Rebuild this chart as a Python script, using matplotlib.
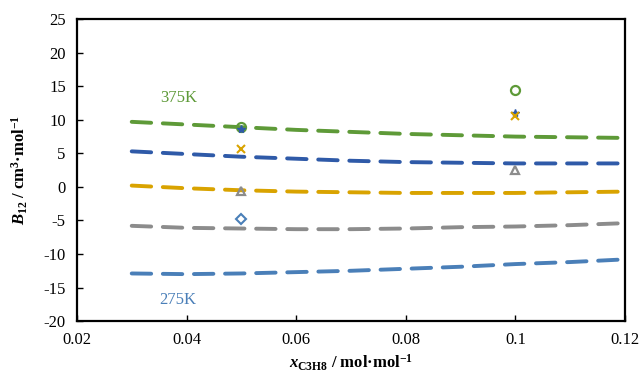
import matplotlib
matplotlib.use("Agg")
import matplotlib.pyplot as plt
import numpy as np

plt.rcParams["font.family"] = ["Liberation Serif", "DejaVu Serif"]
plt.rcParams["mathtext.fontset"] = "custom"
plt.rcParams["mathtext.rm"] = "Liberation Serif:bold"
plt.rcParams["mathtext.it"] = "Liberation Serif:bold:italic"
plt.rcParams["mathtext.bf"] = "Liberation Serif:bold"
plt.rcParams["axes.unicode_minus"] = False

# model curves
x_line = [0.03, 0.04, 0.05, 0.06, 0.07, 0.08, 0.09, 0.10, 0.11, 0.12]
b_375 = [9.7, 9.3, 8.9, 8.5, 8.2, 7.9, 7.7, 7.5, 7.4, 7.3]
b_350 = [5.3, 4.9, 4.5, 4.2, 3.9, 3.7, 3.6, 3.5, 3.5, 3.5]
b_325 = [0.2, -0.2, -0.5, -0.7, -0.8, -0.9, -0.9, -0.9, -0.8, -0.7]
b_300 = [-5.8, -6.1, -6.2, -6.3, -6.3, -6.2, -6.0, -5.9, -5.7, -5.4]
b_275 = [-12.9, -13.0, -12.9, -12.7, -12.5, -12.2, -11.9, -11.5, -11.2, -10.8]

# experimental points
x_pts = [0.05, 0.10]
p_375 = [9.0, 14.5]
p_350 = [8.6, 11.0]
p_325 = [5.6, 10.6]
p_300 = [-0.6, 2.5]
x_pts_275 = [0.05]
p_275 = [-4.8]

green = "#5E9A38"
blue = "#2F5AA8"
gold = "#D9A300"
gray = "#8C8C8C"
lblue = "#4A7FB8"

fig = plt.figure(figsize=(6.41, 3.76), dpi=100)
ax = fig.add_axes([0.120, 0.146, 0.855, 0.803])

dash = dict(lw=2.8, linestyle=(0, (5, 3.0)), dash_capstyle="round")
ax.plot(x_line, b_375, color=green, **dash)
ax.plot(x_line, b_350, color=blue, **dash)
ax.plot(x_line, b_325, color=gold, **dash)
ax.plot(x_line, b_300, color=gray, **dash)
ax.plot(x_line, b_275, color=lblue, **dash)

ax.plot(x_pts, p_375, "o", mfc="none", mec=green, mew=1.6, ms=6.5)
ax.plot(x_pts, p_350, "*", color=blue, ms=6)
ax.plot(x_pts, p_325, "x", color=gold, mew=1.5, ms=6)
ax.plot(x_pts, p_300, "^", mfc="none", mec=gray, mew=1.6, ms=6)
ax.plot(x_pts_275, p_275, "D", mfc="none", mec=lblue, mew=1.5, ms=5)

ax.text(0.0385, 13.3, "375K", color=green, fontsize=12, ha="center", va="center")
ax.text(0.0385, -16.8, "275K", color=lblue, fontsize=12, ha="center", va="center")

ax.set_xlim(0.02, 0.12)
ax.set_ylim(-20, 25)
ax.set_xticks([0.02, 0.04, 0.06, 0.08, 0.1, 0.12])
ax.set_xticklabels(["0.02", "0.04", "0.06", "0.08", "0.1", "0.12"])
ax.set_yticks(np.arange(-20, 26, 5))
ax.tick_params(direction="in", labelsize=12, width=1.0, length=4)
ax.tick_params(axis="x", pad=8)
ax.tick_params(axis="y", pad=8)
for s in ax.spines.values():
    s.set_linewidth(1.6)

ax.set_xlabel(r"$x_{\mathrm{C3H8}}$ / mol·mol$^{\mathbf{-1}}$", fontsize=12,
              fontweight="bold", labelpad=3)
ax.set_ylabel(r"$B_{\mathrm{12}}$ / cm$^{\mathbf{3}}$·mol$^{\mathbf{-1}}$", fontsize=12,
              fontweight="bold", labelpad=10)

fig.savefig("out.png", dpi=100)
